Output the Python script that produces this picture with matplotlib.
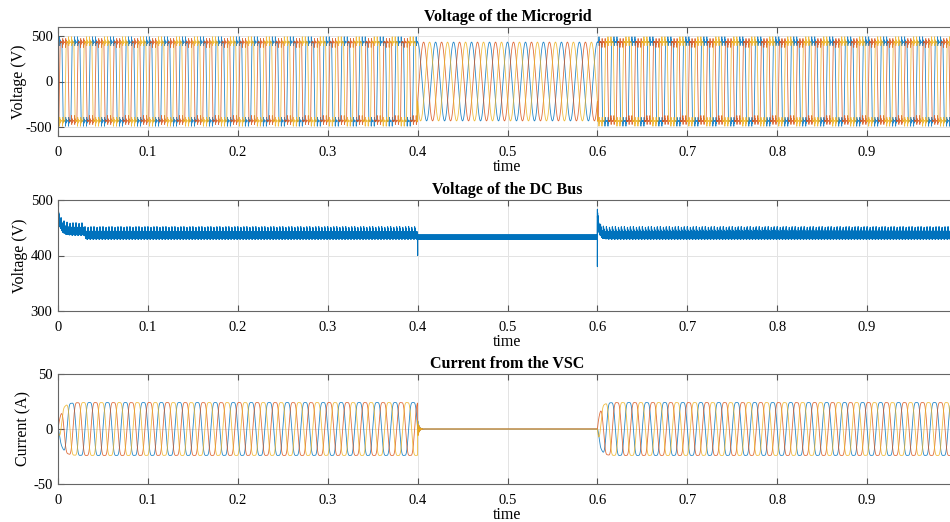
import numpy as np
import matplotlib
matplotlib.use("Agg")
import matplotlib.pyplot as plt

# --- values ---
t_end = 1.0
f_grid = 50.0                      # Hz
island = [0.4, 0.6]                # grid disconnected between these times
phase_deg = [90.0, -30.0, 210.0]   # phase a, b, c

v_plateau = 430.0                  # microgrid voltage, grid mode (flat top)
v_sine = 430.0                     # microgrid voltage, islanded (clean sine)
v_spike = 70.0                     # commutation spikes on the plateaus

dc_start = [300.0, 476.0]          # first sample, initial overshoot
dc_early = 443.0                   # level before ~0.03 s
dc_grid = 436.0                    # level in grid mode
dc_island = 433.0                  # level while islanded
dc_ripple = [6.0, 11.0, 3.5]       # band (grid), spikes (grid), band (island)
dc_event_04 = 400.0                # dip at 0.4 s
dc_event_06 = [380.0, 478.0]       # dip / overshoot at 0.6 s

i_amp = 24.0                       # VSC current peak (A)
i_third = 0.12                     # flattening of the current tops

x_ticks = [0, 0.1, 0.2, 0.3, 0.4, 0.5, 0.6, 0.7, 0.8, 0.9, 1.0]
x_labels = ["0", "0.1", "0.2", "0.3", "0.4", "0.5", "0.6", "0.7", "0.8", "0.9", ""]
titles = ["Voltage of the Microgrid", "Voltage of the DC Bus", "Current from the VSC"]
ylabels = ["Voltage (V)", "Voltage (V)", "Current (A)"]
ylims = [(-595, 595), (300, 500), (-50, 50)]
yticks = [[-500, 0, 500], [300, 400, 500], [-50, 0, 50]]

colors = ["#0072BD", "#D95319", "#EDB120"]

plt.rcParams["font.family"] = ["Liberation Serif", "DejaVu Serif"]
plt.rcParams["font.size"] = 10.5
plt.rcParams["axes.unicode_minus"] = False

t = np.linspace(0, t_end, 200001)
w = 2 * np.pi * f_grid
grid_on = (t < island[0]) | (t >= island[1])

# --- microgrid voltage ---
theta_a = w * t + np.deg2rad(phase_deg[0])
dt_evt = np.mod(theta_a, np.pi / 3) / w          # time since last zero crossing of any phase
burst = np.exp(-dt_evt / 0.0005) * np.sin(2 * np.pi * 2500 * dt_evt)
v_abc = []
for k, ph in enumerate(phase_deg):
    th = w * t + np.deg2rad(ph)
    s = np.sin(th)
    sq = v_plateau * np.clip(5 * s, -1, 1)
    sq += v_spike * burst * np.sign(s) * (np.abs(s) > 0.3) * (1 if k % 2 == 0 else -1)
    v = np.where(grid_on, sq, v_sine * s)
    v_abc.append(v)

# --- DC bus voltage ---
hf = np.sin(2 * np.pi * 5000 * t)
saw = np.exp(-np.mod(t, 1 / 300.0) / 0.0005)
dc_g = np.where(t < 0.03, dc_early, dc_grid) + dc_ripple[0] * hf + dc_ripple[1] * saw
dc_g += (dc_start[1] - dc_early) * np.exp(-t / 0.003)
t6 = np.clip(t - island[1], 0, None)
dc_g += np.where(t >= island[1], (dc_event_06[1] - dc_grid - 10) * np.exp(-t6 / 0.002), 0)
dc = np.where(grid_on, dc_g, dc_island + dc_ripple[2] * hf)
dc[0] = dc_start[0]
i04 = np.searchsorted(t, island[0])
i06 = np.searchsorted(t, island[1])
dc[i04 + 2] = dc_event_04
dc[i06 + 2] = dc_event_06[0]
dc[i06 + 4] = dc_event_06[1]

# --- VSC current ---
i_abc = []
ramp = 1 - np.exp(-t / 0.004)
t4 = np.clip(t - island[0], 0, None)
for k, ph in enumerate(phase_deg):
    th = w * t + np.deg2rad(ph) + np.pi / 2
    base = i_amp * (np.sin(th) + i_third * np.sin(3 * th)) / (1 - i_third)
    on = np.where(t < island[0], ramp, 0.0)
    on = np.where(t >= island[1], 1 - np.exp(-t6 / 0.003), on)
    decay = np.where((t >= island[0]) & (t < island[1]),
                     0.35 * np.exp(-t4 / 0.0015) * np.sin(2 * np.pi * 900 * t4 + k), 0.0)
    i_abc.append(base * on + i_amp * decay)

# --- figure ---
fig = plt.figure(figsize=(9.5, 5.22), dpi=100)
W, H = 950.0, 522.0
boxes = [(27, 136), (200, 311), (374, 484)]   # top / bottom pixel of each axes
ylabel_x = [27, 28, 31]                       # pixel x of the y-label right edge
left, right = 58.0, 957.0

axes = []
for (top, bot) in boxes:
    ax = fig.add_axes([left / W, 1 - bot / H, (right - left) / W, (bot - top) / H])
    axes.append(ax)

for k in range(3):
    axes[0].plot(t, v_abc[k], color=colors[k], lw=0.6, alpha=0.85)
axes[1].plot(t, dc, color=colors[0], lw=0.8)
for k in range(3):
    axes[2].plot(t, i_abc[k], color=colors[k], lw=0.6, alpha=0.85)

for n, ax in enumerate(axes):
    ax.set_xlim(0, t_end)
    ax.set_ylim(*ylims[n])
    ax.set_xticks(x_ticks)
    ax.set_xticklabels(x_labels)
    ax.set_yticks(yticks[n])
    ax.set_title(titles[n], fontweight="bold", fontsize=11.5, pad=4)
    ax.set_ylabel(ylabels[n], fontsize=11.5)
    ax.yaxis.set_label_coords((ylabel_x[n] - left) / (right - left), 0.5)
    ax.set_xlabel("time", fontsize=11.5, labelpad=0)
    ax.grid(True, color="#e3e3e3", lw=0.7)
    ax.set_axisbelow(True)
    ax.tick_params(direction="in", top=True, right=True, length=4,
                   color="#555555", labelsize=10.5)
    ax.tick_params(axis="x", pad=7)
    ax.tick_params(axis="y", pad=4)
    for sp in ax.spines.values():
        sp.set_color("#666666")
        sp.set_linewidth(0.8)

fig.savefig("out.png", dpi=100)
